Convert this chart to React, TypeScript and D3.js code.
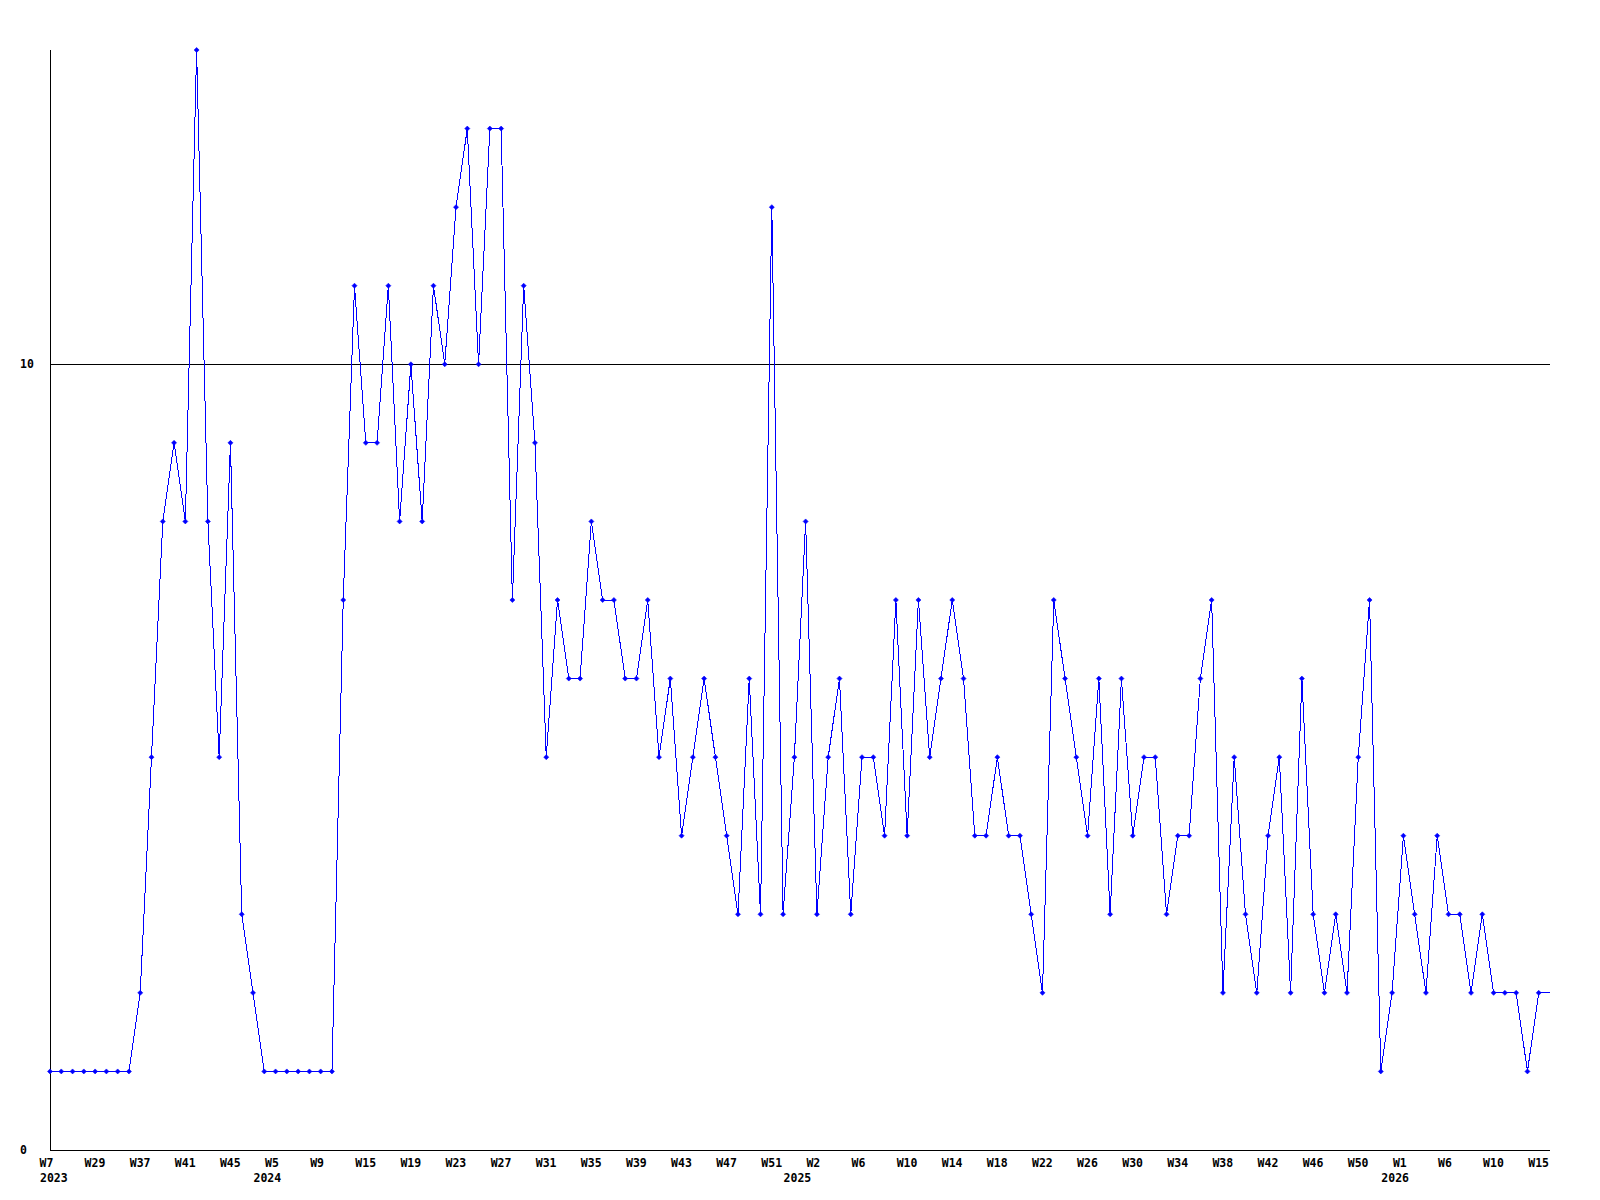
import React from "react";
import * as d3 from "d3";

const values: number[] = [
  1, 1, 1, 1, 1, 1, 1, 1, 2, 5,
  8, 9, 8, 14, 8, 5, 9, 3, 2, 1,
  1, 1, 1, 1, 1, 1, 7, 11, 9, 9,
  11, 8, 10, 8, 11, 10, 12, 13, 10, 13,
  13, 7, 11, 9, 5, 7, 6, 6, 8, 7,
  7, 6, 6, 7, 5, 6, 4, 5, 6, 5,
  4, 3, 6, 3, 12, 3, 5, 8, 3, 5,
  6, 3, 5, 5, 4, 7, 4, 7, 5, 6,
  7, 6, 4, 4, 5, 4, 4, 3, 2, 7,
  6, 5, 4, 6, 3, 6, 4, 5, 5, 3,
  4, 4, 6, 7, 2, 5, 3, 2, 4, 5,
  2, 6, 3, 2, 3, 2, 5, 7, 1, 2,
  4, 3, 2, 4, 3, 3, 2, 3, 2, 2,
  2, 1, 2, 2,
];

const weekLabels: string[] = [
  "W7", "W29", "W37", "W41", "W45", "W5", "W9", "W15", "W19", "W23", "W27",
  "W31", "W35", "W39", "W43", "W47", "W51", "W2", "W6", "W10", "W14", "W18",
  "W22", "W26", "W30", "W34", "W38", "W42", "W46", "W50", "W1", "W6", "W10", "W15",
];
const weekLabelStep = 4;

const yearLabels: string[] = ["2023", "2024", "2025", "2026"];
const yearIndices: number[] = [0, 18, 65, 118];

const yTicks: number[] = [0, 10];
const gridValues: number[] = [10];
const yMax = 14;

const W = 1600;
const H = 1200;
const left = 50;
const right = 1550;
const top = 50;
const bottom = 1150;

const font = "'DejaVu Sans Mono', 'Liberation Mono', monospace";

export default function App() {
  const x = d3.scaleLinear().domain([0, values.length - 1]).range([left, right]);
  const y = d3.scaleLinear().domain([0, yMax]).range([bottom, top]);
  const line = d3
    .line<number>()
    .x((_, i) => x(i))
    .y((d) => y(d));

  return (
    <svg
      width={W}
      height={H}
      style={{ position: "absolute", left: 0, top: 0, background: "#fff" }}
      xmlns="http://www.w3.org/2000/svg"
    >
      <rect x={0} y={0} width={W} height={H} fill="#fff" />
      {gridValues.map((g) => (
        <line
          key={"g" + g}
          x1={left}
          x2={right}
          y1={Math.round(y(g)) + 0.5}
          y2={Math.round(y(g)) + 0.5}
          stroke="#000"
          strokeWidth={1}
          shapeRendering="crispEdges"
        />
      ))}
      <line x1={left + 0.5} x2={left + 0.5} y1={top} y2={bottom} stroke="#000" strokeWidth={1} shapeRendering="crispEdges" />
      <line x1={left} x2={right} y1={bottom + 0.5} y2={bottom + 0.5} stroke="#000" strokeWidth={1.5} shapeRendering="crispEdges" />
      {yTicks.map((t) => (
        <text
          key={"yt" + t}
          x={20}
          y={y(t) + 4}
          fontFamily={font}
          fontWeight="bold"
          fontSize={11.5}
          fill="#000"
        >
          {t}
        </text>
      ))}
      <path d={line(values) || ""} fill="none" stroke="#0000ff" strokeWidth={1} shapeRendering="crispEdges" />
      {values.slice(0, values.length - 1).map((v, i) => {
        const cx = x(i);
        const cy = y(v);
        return (
          <path
            key={"m" + i}
            d={`M${cx},${cy - 2.5}L${cx + 2.5},${cy}L${cx},${cy + 2.5}L${cx - 2.5},${cy}Z`}
            fill="#0000ff"
            stroke="#0000ff"
            strokeWidth={0.6}
          />
        );
      })}
      {weekLabels.map((l, k) => (
        <text
          key={"w" + k}
          x={x(k * weekLabelStep) - 10.5}
          y={1167}
          fontFamily={font}
          fontWeight="bold"
          fontSize={11.5}
          fill="#000"
        >
          {l}
        </text>
      ))}
      {yearLabels.map((l, k) => (
        <text
          key={"yr" + k}
          x={k === 0 ? x(yearIndices[k]) - 10 : x(yearIndices[k]) + 0.5}
          y={1182}
          fontFamily={font}
          fontWeight="bold"
          fontSize={11.5}
          fill="#000"
        >
          {l}
        </text>
      ))}
    </svg>
  );
}
